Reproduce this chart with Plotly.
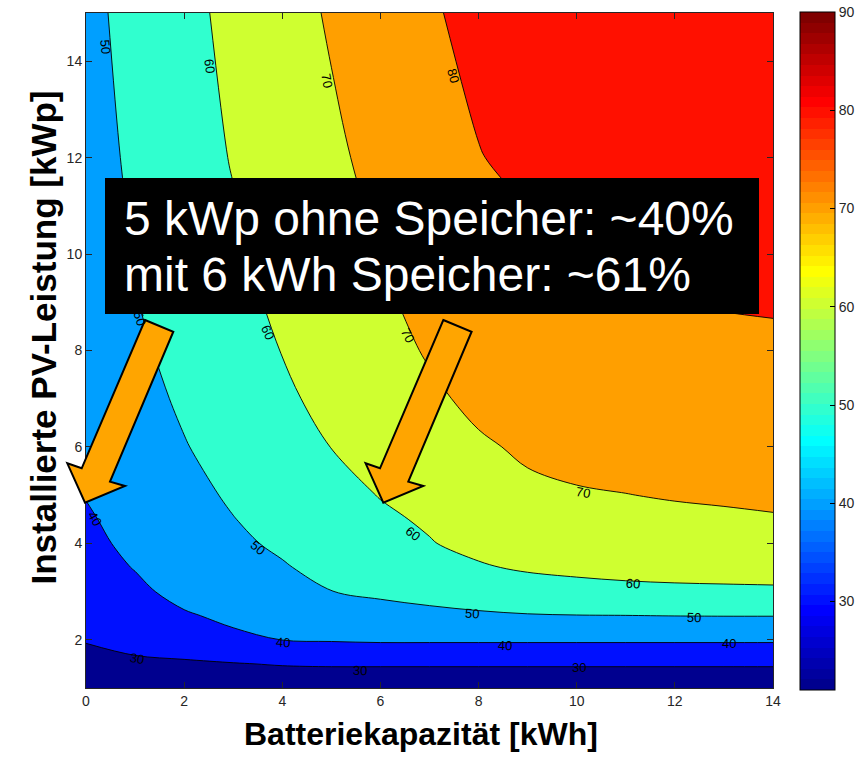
import plotly.graph_objects as go

# ---------------- data ----------------
battery_kwh = [0, 1, 2, 3, 4, 5, 6, 7, 8, 9, 10, 11, 12, 13, 14]
pv_kwp = [1, 1.5, 2, 2.5, 3, 3.5, 4, 4.5, 5, 6, 7, 8, 9, 10, 12, 15]

# autarky [%] ; one row per pv_kwp value, one column per battery_kwh value
autarky_pct = [
    [21.0, 22.5, 23.0, 23.5, 23.8, 24.0, 24.0, 24.0, 24.0, 24.0, 24.0, 24.0, 24.0, 24.0, 24.0],
    [26.5, 28.8, 29.1, 29.6, 30.5, 30.8, 30.8, 30.8, 30.8, 30.8, 30.8, 30.8, 30.8, 30.8, 30.8],
    [30.6, 32.2, 33.9, 38.0, 40.1, 40.7, 41.2, 41.2, 41.2, 41.2, 41.2, 41.2, 41.2, 41.2, 41.2],
    [32.3, 35.0, 39.0, 42.0, 43.6, 45.5, 47.0, 48.0, 48.8, 49.5, 49.8, 49.9, 50.1, 50.2, 50.2],
    [34.2, 37.9, 43.0, 44.4, 46.4, 49.9, 51.4, 52.8, 54.5, 56.0, 57.0, 57.8, 58.2, 58.4, 58.5],
    [35.9, 40.4, 44.6, 46.6, 49.3, 52.6, 54.9, 56.8, 59.2, 61.0, 62.0, 62.7, 63.2, 63.5, 64.0],
    [37.5, 42.3, 45.8, 48.4, 51.4, 54.3, 57.3, 59.6, 62.2, 64.0, 65.2, 66.0, 66.6, 67.0, 67.5],
    [39.0, 43.2, 46.8, 49.8, 52.8, 55.9, 58.7, 61.0, 64.4, 66.5, 67.5, 68.3, 68.8, 69.2, 69.6],
    [40.3, 43.9, 47.6, 51.0, 54.1, 57.2, 60.3, 63.3, 66.2, 68.7, 69.5, 69.9, 70.4, 70.7, 71.0],
    [41.8, 45.7, 49.6, 53.1, 56.6, 60.1, 63.0, 65.9, 69.1, 71.0, 71.9, 72.5, 72.9, 73.2, 73.4],
    [43.0, 47.2, 51.2, 54.9, 58.7, 62.1, 65.4, 68.7, 71.6, 73.0, 74.0, 74.7, 75.2, 75.6, 75.9],
    [44.0, 48.5, 52.6, 56.4, 60.2, 63.7, 67.3, 70.7, 73.2, 75.1, 76.3, 77.1, 77.6, 78.0, 78.4],
    [44.8, 49.7, 53.7, 57.7, 61.5, 65.2, 68.9, 72.0, 74.6, 76.6, 78.0, 79.2, 80.1, 80.5, 80.8],
    [45.5, 50.3, 54.5, 58.6, 62.5, 66.3, 70.1, 72.8, 75.6, 78.3, 80.5, 81.3, 81.8, 82.2, 82.6],
    [46.5, 51.5, 56.0, 60.5, 64.5, 68.5, 72.3, 75.9, 79.7, 81.9, 83.2, 84.1, 84.8, 85.3, 85.8],
    [47.8, 52.7, 57.6, 62.2, 66.6, 70.9, 75.0, 79.0, 82.5, 84.5, 86.0, 87.3, 88.3, 89.2, 90.0],
]

level_start, level_end, level_step = 30, 80, 10
band_colors = ["#00008F", "#0010FF", "#009FFF", "#30FFCF", "#CFFF30", "#FF9F00", "#FF1000"]
colorbar_min, colorbar_max = 21, 90
colorbar_ticks = [30, 40, 50, 60, 70, 80, 90]
x_ticks = [0, 2, 4, 6, 8, 10, 12, 14]
y_ticks = [2, 4, 6, 8, 10, 12, 14]

# contour labels (inline, as in the reference)
label_text = ["50", "60", "70", "80", "50", "60", "70", "40", "50", "60", "70", "60",
              "50", "50", "40", "40", "40", "30", "30", "30"]
label_x = [0.39, 2.53, 4.91, 7.48, 1.10, 3.71, 6.56, 0.18, 3.50, 6.66, 10.13, 11.14,
           7.87, 12.39, 4.02, 8.54, 13.10, 1.03, 5.58, 10.05]
label_y = [14.30, 13.90, 13.60, 13.70, 8.67, 8.38, 8.32, 4.52, 3.92, 4.21, 5.06, 3.17,
           2.55, 2.47, 1.95, 1.89, 1.93, 1.62, 1.37, 1.43]
label_angle = [85, 83, 79, 75, 72, 67, 63, 60, 40, 38, 10, 5, 4, 2, 3, 2, 0, 10, 2, 0]

annotation_lines = ["5 kWp ohne Speicher: ~40%", "mit 6 kWh Speicher: ~61%"]

# ---------------- layout geometry (pixels of the 859x758 page) ----------------
W, H = 859, 758
L, R, T, B = 86, 773, 13, 688
PW, PH = R - L, B - T
FONT = "Liberation Sans, Arial, Helvetica, sans-serif"


def px2paper(px, py):
    return (px - L) / PW, (B - py) / PH


def jet64():
    m, n = 64, 16
    u = [i / n for i in range(1, n + 1)] + [1.0] * (n - 1) + [i / n for i in range(n, 0, -1)]
    r = [0.0] * m
    g = [0.0] * m
    b = [0.0] * m
    for k, val in enumerate(u):
        gi = 8 + k + 1
        ri = gi + n
        bi = gi - n
        if 1 <= gi <= m:
            g[gi - 1] = val
        if 1 <= ri <= m:
            r[ri - 1] = val
        if 1 <= bi <= m:
            b[bi - 1] = val
    scale = []
    for j in range(m):
        c = "rgb(%d,%d,%d)" % (round(r[j] * 255), round(g[j] * 255), round(b[j] * 255))
        scale.append([j / m, c])
        scale.append([(j + 1) / m, c])
    return scale


fig = go.Figure()

fig.add_trace(go.Contour(
    x=battery_kwh, y=pv_kwp, z=autarky_pct,
    autocontour=False,
    contours=dict(start=level_start, end=level_end, size=level_step,
                  coloring="fill", showlines=True, showlabels=False),
    line=dict(color="black", width=0.9),
    colorscale=[[i / (len(band_colors) - 1), c] for i, c in enumerate(band_colors)],
    showscale=False, hoverinfo="skip",
))

# continuous jet colour bar (as in the reference)
cbx, _ = px2paper(800, 0)
_, cby = px2paper(0, 351)
fig.add_trace(go.Scatter(
    x=[None], y=[None], mode="markers", showlegend=False, hoverinfo="skip",
    marker=dict(color=[colorbar_min], cmin=colorbar_min, cmax=colorbar_max,
                colorscale=jet64(), showscale=True,
                colorbar=dict(x=cbx, xanchor="left", xpad=0, y=cby, yanchor="middle",
                              ypad=0, len=(690 - 12) / PH, lenmode="fraction",
                              thickness=35, thicknessmode="pixels",
                              outlinewidth=1, outlinecolor="black",
                              tickvals=colorbar_ticks, ticks="inside", ticklen=5,
                              tickcolor="black",
                              tickfont=dict(family=FONT, size=14, color="#262626"))),
))

annotations = []
for t, x, y, a in zip(label_text, label_x, label_y, label_angle):
    annotations.append(dict(x=x, y=y, xref="x", yref="y", text=t, showarrow=False,
                            textangle=a, font=dict(family=FONT, size=13, color="black")))

# text box lines
for i, line in enumerate(annotation_lines):
    px_left = 122
    py_mid = [218.0, 274.5][i]
    ax, ay = px2paper(px_left, py_mid)
    annotations.append(dict(x=ax, y=ay, xref="paper", yref="paper", text=line,
                            showarrow=False, xanchor="left", yanchor="middle",
                            font=dict(family=FONT, size=48, color="white")))

# axis titles
ax, ay = px2paper(420.5, 734)
annotations.append(dict(x=ax, y=ay, xref="paper", yref="paper",
                        text="<b>Batteriekapazität [kWh]</b>", showarrow=False,
                        xanchor="center", yanchor="middle",
                        font=dict(family=FONT, size=32, color="black")))
ax, ay = px2paper(43, 337.5)
annotations.append(dict(x=ax, y=ay, xref="paper", yref="paper",
                        text="<b>Installierte PV-Leistung [kWp]</b>", showarrow=False,
                        textangle=-90, xanchor="center", yanchor="middle",
                        font=dict(family=FONT, size=35, color="black")))

shapes = []
# black text box
bx0, by0 = px2paper(105, 314)
bx1, by1 = px2paper(759, 178)
shapes.append(dict(type="rect", xref="paper", yref="paper", x0=bx0, y0=by0, x1=bx1, y1=by1,
                   fillcolor="black", line=dict(width=0), layer="above"))

# two block arrows
arrow_px = [(145, 320), (173.3, 331.7), (110, 481.7), (125, 486), (85, 502.7),
            (67.3, 463.3), (81.7, 468.3)]
for dx in (0, 298.3):
    pts = [px2paper(px + dx, py) for px, py in arrow_px]
    path = "M " + " L ".join("%.5f,%.5f" % p for p in pts) + " Z"
    shapes.append(dict(type="path", xref="paper", yref="paper", path=path,
                       fillcolor="#FFA500", line=dict(color="black", width=2),
                       layer="above"))

axis_common = dict(showgrid=False, zeroline=False, showline=True, linecolor="#262626",
                   linewidth=1, mirror="ticks", ticks="inside", ticklen=6,
                   tickcolor="#262626",
                   tickfont=dict(family=FONT, size=14, color="#262626"))

fig.update_layout(
    width=W, height=H,
    margin=dict(l=L, r=W - R, t=T, b=H - B, pad=0, autoexpand=False),
    paper_bgcolor="white", plot_bgcolor="white",
    xaxis=dict(range=[0, 14], tickvals=x_ticks, automargin=False, **axis_common),
    yaxis=dict(range=[1, 15], tickvals=y_ticks, automargin=False, **axis_common),
    annotations=annotations, shapes=shapes, showlegend=False,
)

fig.write_html("out.html")
